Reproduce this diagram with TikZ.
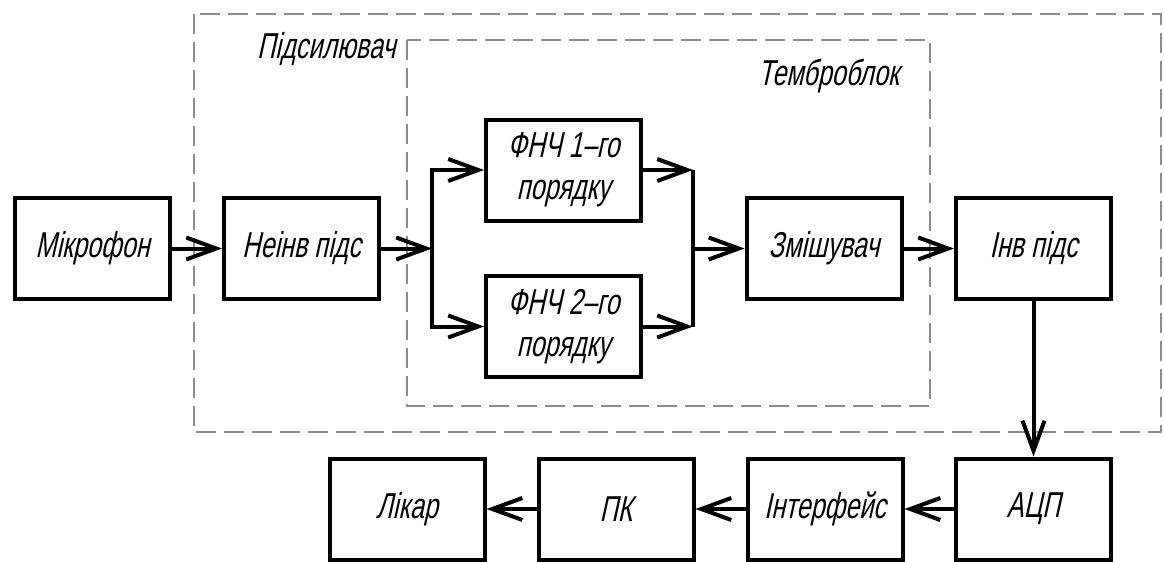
\documentclass[tikz,border=0pt]{standalone}
\usepackage{fontspec}
\setmainfont{Liberation Sans}[FakeSlant=0.22,FakeStretch=0.7]
\usetikzlibrary{arrows.meta}

\begin{document}
\begin{tikzpicture}[x=0.5pt,y=-0.5pt,
  block/.style={draw,line width=2pt,minimum width=77.5pt,minimum height=50.5pt,align=center,inner sep=2pt,font=\fontsize{18}{21}\selectfont},
  arr/.style={-{Straight Barb[length=15pt,width=11pt]},line width=2pt},
  wire/.style={line width=2pt},
  frame/.style={draw=black!45,line width=1pt,dash pattern=on 10pt off 4pt},
  lbl/.style={font=\fontsize{18}{21}\selectfont}
]
  \useasboundingbox (0,0) rectangle (1164,562);
  % dashed frames
  \draw[frame] (194,14) rectangle (1161,432);
  \draw[frame] (407,40) rectangle (930,406);
  \node[lbl,anchor=base west] (amp) at (250,58) {Підсилювач};
  \node[lbl,anchor=base west] (tone) at (751,85) {Темброблок};
  % blocks
  \node[block] (mic) at (92.5,248.5) {Мікрофон};
  \node[block] (neinv) at (301.5,248.5) {Неінв підс};
  \node[block] (fnch1) at (563.5,170) {ФНЧ 1–го\\порядку};
  \node[block] (fnch2) at (563.5,326.5) {ФНЧ 2–го\\порядку};
  \node[block] (mix) at (824,248.5) {Змішувач};
  \node[block] (inv) at (1033.5,248.5) {Інв підс};
  \node[block] (adc) at (1033.5,509) {АЦП};
  \node[block] (intf) at (825,509) {Інтерфейс};
  \node[block] (pc) at (616,509) {ПК};
  \node[block] (doc) at (407,509) {Лікар};
  \coordinate (split) at (432,248.5);
  \coordinate (join) at (693,248.5);
  % connections
  \draw[arr] (mic) -- (neinv);
  \draw[arr] (neinv) -- (split);
  \draw[arr] (split) |- (fnch1);
  \draw[arr] (split) |- (fnch2);
  \draw[arr] (fnch1) -- (join |- fnch1);
  \draw[arr] (fnch2) -- (join |- fnch2);
  \draw[wire] (join |- fnch1) -- (join |- fnch2);
  \draw[arr] (join) -- (mix);
  \draw[arr] (mix) -- (inv);
  \draw[arr] (inv) -- (adc);
  \draw[arr] (adc) -- (intf);
  \draw[arr] (intf) -- (pc);
  \draw[arr] (pc) -- (doc);
\end{tikzpicture}
\end{document}
